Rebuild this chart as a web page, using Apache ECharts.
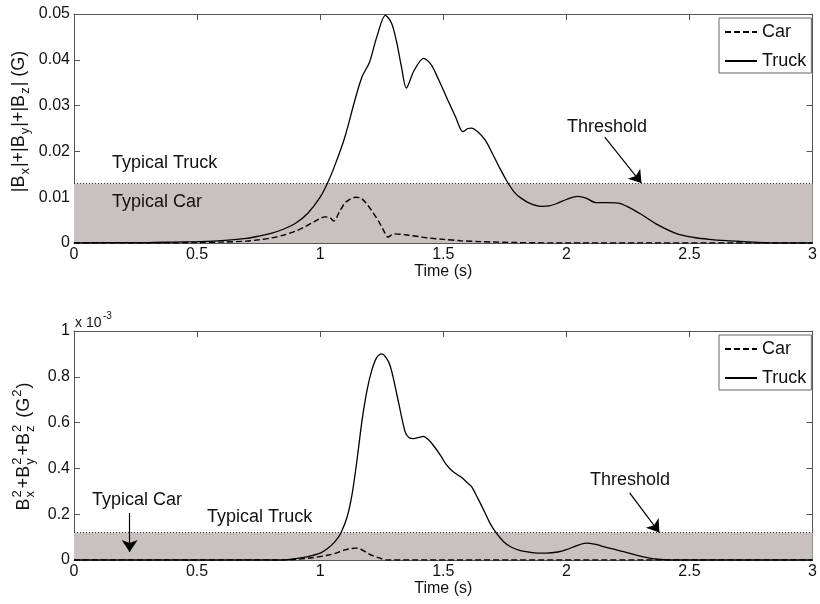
<!DOCTYPE html>
<html>
<head>
<meta charset="utf-8">
<script src="https://cdn.jsdelivr.net/npm/echarts@6/dist/echarts.min.js"></script>
<style>html,body{margin:0;padding:0;background:#fff}#c{width:820px;height:604px}</style>
</head>
<body>
<div id="c"></div>
<script>
// ---------- data (time in s) ----------
const timeTicks = [0, 0.5, 1, 1.5, 2, 2.5, 3];

// Top panel: |Bx|+|By|+|Bz| (G)
const truckTopT = [0, 0.23, 0.3, 0.4, 0.5, 0.6, 0.7, 0.75, 0.8, 0.85, 0.9, 0.95, 1.0, 1.03, 1.06, 1.1, 1.14, 1.17, 1.2, 1.23, 1.265, 1.29, 1.31, 1.33, 1.35, 1.38, 1.42, 1.45, 1.48, 1.52, 1.55, 1.58, 1.6, 1.615, 1.64, 1.67, 1.7, 1.73, 1.763, 1.79, 1.816, 1.85, 1.897, 1.93, 1.965, 2.0, 2.046, 2.08, 2.12, 2.16, 2.21, 2.25, 2.3, 2.37, 2.45, 2.52, 2.58, 2.65, 2.72, 2.8, 2.9, 3.0];
const truckTopV = [0, 0.0001, 0.0001, 0.0002, 0.0003, 0.0005, 0.0010, 0.0015, 0.0021, 0.0030, 0.0043, 0.0065, 0.0100, 0.0131, 0.0170, 0.0231, 0.0310, 0.0363, 0.0394, 0.0450, 0.0497, 0.0480, 0.0440, 0.0385, 0.0338, 0.0375, 0.0403, 0.0390, 0.0358, 0.0310, 0.0275, 0.0243, 0.0250, 0.0251, 0.0243, 0.0225, 0.0195, 0.0163, 0.0131, 0.0110, 0.0098, 0.0087, 0.0080, 0.0081, 0.0087, 0.0095, 0.0102, 0.0098, 0.0088, 0.0088, 0.0087, 0.0079, 0.0064, 0.0040, 0.0020, 0.0012, 0.0008, 0.0005, 0.0003, 0.0001, 0, 0];
const carTopT = [0, 0.4, 0.5, 0.6, 0.7, 0.75, 0.8, 0.85, 0.9, 0.94, 0.98, 1.02, 1.04, 1.055, 1.08, 1.1, 1.125, 1.145, 1.165, 1.185, 1.21, 1.24, 1.26, 1.275, 1.30, 1.345, 1.4, 1.44, 1.5, 1.57, 1.65, 1.8, 2.0, 3.0];
const carTopV = [0, 0, 0.0001, 0.0002, 0.0004, 0.0007, 0.0011, 0.0017, 0.0026, 0.0036, 0.0048, 0.0057, 0.0055, 0.0048, 0.0070, 0.0087, 0.0097, 0.0100, 0.0098, 0.0088, 0.0070, 0.0045, 0.0025, 0.0013, 0.0020, 0.0018, 0.0014, 0.0011, 0.0008, 0.0005, 0.0003, 0.0001, 0, 0];
const thresholdTop = 0.013;

// Bottom panel: Bx^2+By^2+Bz^2 (G^2), values in units of 1e-3
const truckBotT = [0, 0.85, 0.9, 0.95, 1.0, 1.03, 1.06, 1.084, 1.11, 1.13, 1.15, 1.17, 1.19, 1.21, 1.23, 1.25, 1.27, 1.285, 1.30, 1.32, 1.345, 1.36, 1.38, 1.40, 1.42, 1.44, 1.46, 1.49, 1.51, 1.54, 1.575, 1.60, 1.615, 1.64, 1.67, 1.69, 1.715, 1.745, 1.775, 1.81, 1.844, 1.884, 1.92, 1.965, 2.0, 2.04, 2.08, 2.12, 2.155, 2.2, 2.236, 2.28, 2.317, 2.35, 2.37, 2.42, 3.0];
const truckBotV = [0, 0, 0.006, 0.015, 0.03, 0.05, 0.08, 0.118, 0.19, 0.29, 0.44, 0.61, 0.74, 0.83, 0.885, 0.90, 0.88, 0.845, 0.78, 0.68, 0.56, 0.535, 0.53, 0.535, 0.54, 0.525, 0.50, 0.455, 0.42, 0.385, 0.36, 0.335, 0.32, 0.27, 0.205, 0.16, 0.118, 0.08, 0.057, 0.042, 0.035, 0.03, 0.03, 0.035, 0.045, 0.062, 0.074, 0.068, 0.057, 0.045, 0.035, 0.022, 0.013, 0.006, 0.004, 0, 0];
const carBotT = [0, 0.85, 0.914, 0.97, 1.035, 1.07, 1.10, 1.125, 1.145, 1.165, 1.185, 1.21, 1.24, 1.27, 3.0];
const carBotV = [0, 0, 0.004, 0.01, 0.022, 0.032, 0.044, 0.05, 0.052, 0.047, 0.035, 0.02, 0.009, 0, 0];
const thresholdBot = 0.12;

// annotation arrows [t0, v0, t1, v1]
const arrowsTop = [[2.156, 0.0231, 2.305, 0.0131]];
const arrowsBot = [[2.257, 0.293, 2.378, 0.12], [0.226, 0.205, 0.226, 0.035]];

// ---------- build ----------
const FF = '"Liberation Sans", Arial, sans-serif';
const AX = '#555';
const TXT = '#111';
const zip = (t, v) => t.map((x, i) => [x, v[i]]);

function xAxisMain(g) {
  return {
    type: 'value', gridIndex: g, min: 0, max: 3, interval: 0.5, position: 'bottom',
    axisLine: { onZero: false, lineStyle: { color: AX, width: 1 } },
    axisTick: { inside: true, length: 6, lineStyle: { color: AX } },
    axisLabel: { color: TXT, fontSize: 16, fontFamily: FF, margin: 4 },
    splitLine: { show: false },
    name: 'Time (s)', nameLocation: 'middle', nameGap: 21,
    nameTextStyle: { color: TXT, fontSize: 16, fontFamily: FF }
  };
}
function xAxisBox(g) {
  return {
    type: 'value', gridIndex: g, min: 0, max: 3, interval: 0.5, position: 'top',
    axisLine: { onZero: false, lineStyle: { color: AX, width: 1 } },
    axisTick: { inside: true, length: 6, lineStyle: { color: AX } },
    axisLabel: { show: false }, splitLine: { show: false }
  };
}
function yAxisMain(g, max, interval) {
  return {
    type: 'value', gridIndex: g, min: 0, max: max, interval: interval, position: 'left',
    axisLine: { show: true, onZero: false, lineStyle: { color: AX, width: 1 } },
    axisTick: { show: true, inside: true, length: 6, lineStyle: { color: AX } },
    axisLabel: { color: TXT, fontSize: 16, fontFamily: FF, margin: 4 },
    splitLine: { show: false }
  };
}
function yAxisBox(g, max, interval) {
  return {
    type: 'value', gridIndex: g, min: 0, max: max, interval: interval, position: 'right',
    axisLine: { show: true, onZero: false, lineStyle: { color: AX, width: 1 } },
    axisTick: { show: true, inside: true, length: 6, lineStyle: { color: AX } },
    axisLabel: { show: false }, splitLine: { show: false }
  };
}
function arrowLines(list) {
  return {
    silent: true, symbol: ['none', 'arrow'], symbolSize: 12,
    label: { show: false },
    lineStyle: { type: 'solid', color: '#000', width: 1.2 },
    itemStyle: { color: '#000' },
    emphasis: { disabled: true },
    data: list.map(a => [{ coord: [a[0], a[1]] }, { coord: [a[2], a[3]] }])
  };
}
function thresholdSeries(g, th, arrows) {
  return {
    name: 'threshold', type: 'line', xAxisIndex: g, yAxisIndex: g, silent: true,
    data: [[0, th], [3, th]], symbol: 'none', z: 1,
    lineStyle: { color: '#333', width: 1, type: [1, 2] },
    areaStyle: { color: '#c9c0c0', opacity: 1 },
    markLine: arrowLines(arrows)
  };
}
function carSeries(g, data) {
  return {
    name: 'Car', type: 'line', xAxisIndex: g, yAxisIndex: g, data: data, symbol: 'none',
    smooth: 0.3, z: 3,
    lineStyle: { color: '#000', width: 1.4, type: [6, 3] },
    itemStyle: { color: '#000' }
  };
}
function truckSeries(g, data) {
  return {
    name: 'Truck', type: 'line', xAxisIndex: g, yAxisIndex: g, data: data, symbol: 'none',
    smooth: 0.3, z: 4,
    lineStyle: { color: '#000', width: 1.3, type: 'solid' },
    itemStyle: { color: '#000' }
  };
}
function legendAt(top) {
  return {
    data: ['Car', 'Truck'], orient: 'vertical', left: 719, top: top,
    backgroundColor: '#fff', borderColor: '#666', borderWidth: 1, borderRadius: 0,
    padding: [5, 5, 3, 5], itemWidth: 32, itemHeight: 14, itemGap: 11,
    selectedMode: false,
    itemStyle: { opacity: 0 },
    textStyle: { color: TXT, fontSize: 18, fontFamily: FF }
  };
}

// math-like rotated axis titles
const mctx = document.createElement('canvas').getContext('2d');
function measure(t, size) { mctx.font = size + 'px "Liberation Sans"'; return mctx.measureText(t).width; }
function mathLabel(pieces, cx, cy) {
  const N = 18, S = 13;
  let x = 0; const ch = [];
  const txt = (t, px, py, size) => ch.push({ type: 'text', x: px, y: py, z: 100,
    style: { text: t, fontSize: size, fontFamily: FF, fill: TXT, align: 'left', verticalAlign: 'middle' } });
  pieces.forEach(p => {
    if (p.n !== undefined) { txt(p.n, x, 0, N); x += measure(p.n, N) + 1; }
    else if (p.sub !== undefined && p.sup !== undefined) {
      txt(p.sup, x, -7, S); txt(p.sub, x, 6, S);
      x += Math.max(measure(p.sup, S), measure(p.sub, S)) + 2;
    } else if (p.sub !== undefined) { txt(p.sub, x, 6, S); x += measure(p.sub, S) + 1; }
    else if (p.sup !== undefined) { txt(p.sup, x, -7, S); x += measure(p.sup, S) + 1; }
  });
  ch.forEach(c => c.x -= x / 2);
  return { type: 'group', x: cx, y: cy, rotation: Math.PI / 2, z: 100, children: ch };
}
function label(t, left, cy, size) {
  return { type: 'text', x: left, y: cy, silent: true, z: 100,
    style: { text: t, fontSize: size || 18, fontFamily: FF, fill: TXT, align: 'left', verticalAlign: 'middle' } };
}

const chart = echarts.init(document.getElementById('c'), null, { renderer: 'canvas' });
chart.setOption({
  animation: false,
  backgroundColor: '#fff',
  grid: [
    { left: 74, top: 14, width: 743, height: 229 },
    { left: 74, top: 331, width: 743, height: 229 }
  ],
  xAxis: [xAxisMain(0), xAxisMain(1), xAxisBox(0), xAxisBox(1)],
  yAxis: [yAxisMain(0, 0.05, 0.01), yAxisMain(1, 1, 0.2), yAxisBox(0, 0.05, 0.01), yAxisBox(1, 1, 0.2)],
  legend: [legendAt(18), legendAt(335)],
  series: [
    thresholdSeries(0, thresholdTop, arrowsTop),
    carSeries(0, zip(carTopT, carTopV)),
    truckSeries(0, zip(truckTopT, truckTopV)),
    thresholdSeries(1, thresholdBot, arrowsBot),
    carSeries(1, zip(carBotT, carBotV)),
    truckSeries(1, zip(truckBotT, truckBotV))
  ],
  graphic: [
    mathLabel([{ n: '|B' }, { sub: 'x' }, { n: '|+|B' }, { sub: 'y' }, { n: '|+|B' }, { sub: 'z' }, { n: '| (G)' }], 19, 121),
    mathLabel([{ n: 'B' }, { sup: '2', sub: 'x' }, { n: '+B' }, { sup: '2', sub: 'y' }, { n: '+B' }, { sup: '2', sub: 'z' }, { n: ' (G' }, { sup: '2' }, { n: ')' }], 24, 446),
    label('x 10', 75, 323, 14),
    label('-3', 103, 316, 10),
    label('Typical Truck', 112, 163),
    label('Typical Car', 112, 202),
    label('Threshold', 567, 127),
    label('Typical Car', 92, 500),
    label('Typical Truck', 207, 517),
    label('Threshold', 590, 480)
  ]
});
</script>
</body>
</html>
